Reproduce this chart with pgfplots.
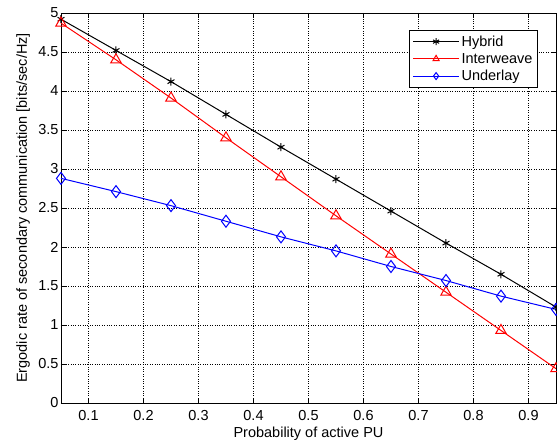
\documentclass[border=0pt]{standalone}
\usepackage{fontspec}
\setmainfont{Liberation Sans}
\usepackage{pgfplots}
\pgfplotsset{compat=1.18}
\begin{document}
\begin{tikzpicture}
\useasboundingbox (-61pt,-40pt) rectangle (496pt,403pt);
\begin{axis}[
  at={(0pt,0pt)}, anchor=south west,
  scale only axis,
  width=495pt, height=390pt,
  xmin=0.05, xmax=0.95, ymin=0, ymax=5,
  xtick={0.1,0.2,...,0.9},
  ytick={0,0.5,...,5},
  xticklabels={0.1,0.2,0.3,0.4,0.5,0.6,0.7,0.8,0.9},
  yticklabels={0,0.5,1,1.5,2,2.5,3,3.5,4,4.5,5},
  tick align=inside,
  major tick length=5pt,
  grid=major,
  grid style={black, dotted, line width=0.5pt},
  axis line style={black, line width=0.9pt},
  tick style={black, line width=0.5pt},
  ticklabel style={font=\fontsize{14.5}{17}\selectfont},
  xticklabel style={yshift=-4pt},
  yticklabel style={xshift=1pt},
  label style={font=\fontsize{14.5}{17}\selectfont},
  xlabel={Probability of active PU},
  ylabel={Ergodic rate of secondary communication [bits/sec/Hz]},
  xlabel style={at={([yshift=-35pt]axis description cs:0.5,0)}, anchor=base},
  ylabel style={at={([xshift=-34pt]axis description cs:0,0.5)}, anchor=base},
  legend style={at={(0.9636,0.956)}, anchor=north east, font=\fontsize{14.5}{17}\selectfont, draw=black, line width=0.9pt, row sep=1.5pt, inner sep=3pt},
  legend cell align=left,
  legend image code/.code={\draw[#1, line width=1pt, mark size=3.5pt] (0pt,0pt) -- (46pt,0pt); \draw[#1, line width=1pt, mark size=3.5pt, mark repeat=2, mark phase=2] plot coordinates {(0pt,0pt) (23pt,0pt) (46pt,0pt)};},
]
\addplot[black, line width=1pt, mark=asterisk, mark size=4pt, mark options={line width=1pt}] coordinates {
(0.05,4.92) (0.15,4.52) (0.25,4.12) (0.35,3.70) (0.45,3.28) (0.55,2.87) (0.65,2.46) (0.75,2.05) (0.85,1.65) (0.95,1.23)};
\addlegendentry{Hybrid}
\addplot[red, line width=1pt, mark=triangle, mark size=6pt, mark options={line width=1pt}] coordinates {
(0.05,4.87) (0.15,4.40) (0.25,3.91) (0.35,3.40) (0.45,2.90) (0.55,2.40) (0.65,1.91) (0.75,1.42) (0.85,0.93) (0.95,0.44)};
\addlegendentry{Interweave}
\addplot[blue, line width=1pt, mark=diamond, mark size=6pt, mark options={line width=1pt}] coordinates {
(0.05,2.88) (0.15,2.71) (0.25,2.53) (0.35,2.33) (0.45,2.13) (0.55,1.95) (0.65,1.75) (0.75,1.57) (0.85,1.37) (0.95,1.20)};
\addlegendentry{Underlay}
\end{axis}
\end{tikzpicture}
\end{document}
